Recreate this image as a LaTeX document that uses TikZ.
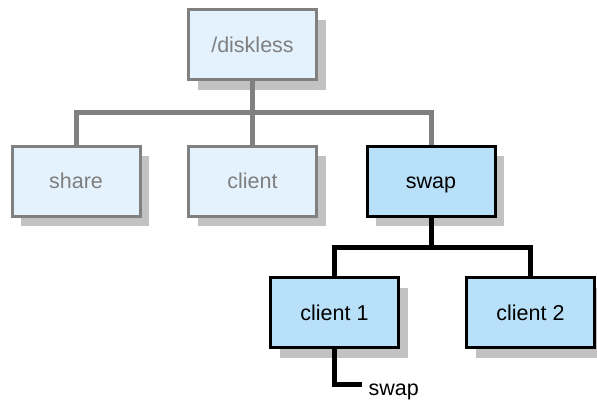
\documentclass[tikz,border=0pt]{standalone}
\usepackage{fontspec}
\setmainfont{Liberation Sans}
\usetikzlibrary{shadows}
\definecolor{lightfill}{HTML}{E4F2FD}
\definecolor{darkfill}{HTML}{B8E0F8}
\definecolor{greyline}{HTML}{808080}
\definecolor{greytext}{HTML}{7F7F7F}
\definecolor{shadowc}{HTML}{C2C2C2}
\tikzset{
  boxbase/.style={rectangle, minimum width=128pt, minimum height=70pt, line width=3pt,
    font=\fontsize{21.5}{25}\selectfont, text height=16pt, text depth=1pt,
    drop shadow={shadow xshift=9pt, shadow yshift=-10pt, fill=shadowc, opacity=1}},
  lightbox/.style={boxbase, draw=greyline, fill=lightfill, text=greytext},
  darkbox/.style={boxbase, draw=black, fill=darkfill, text=black},
  greyconn/.style={draw=greyline, line width=5pt},
  blackconn/.style={draw=black, line width=5pt},
  lbl/.style={font=\fontsize{21.5}{25}\selectfont, inner sep=0pt, anchor=west, text height=15.5pt, text depth=4.5pt}
}
\begin{document}
\begin{tikzpicture}[x=1pt,y=-1pt]
\useasboundingbox (0,0) rectangle (597,399);
\node[lightbox] (diskless) at (252.5,44.5) {/diskless};
\node[lightbox] (share) at (76,181) {share};
\node[lightbox] (client) at (252.5,181) {client};
\node[darkbox] (swap) at (431,181) {swap};
\node[darkbox] (client1) at (334.5,312.5) {client 1};
\node[darkbox] (client2) at (530.5,312.5) {client 2};
\coordinate (gbar) at (252.5,112.5);
\coordinate (bbar) at (431,247);
\coordinate (swapend) at (362,384.5);
\node[lbl] (swaplbl) at (368.5,389.5) {swap};
\draw[greyconn] (diskless.south) -- (gbar);
\draw[greyconn] (share.north) |- (gbar) -| (swap.north);
\draw[greyconn] (client.north) -- (gbar);
\draw[blackconn] (swap.south) -- (bbar);
\draw[blackconn] (client1.north) |- (bbar) -| (client2.north);
\draw[blackconn] (client1.south) |- (swapend);
\end{tikzpicture}
\end{document}
